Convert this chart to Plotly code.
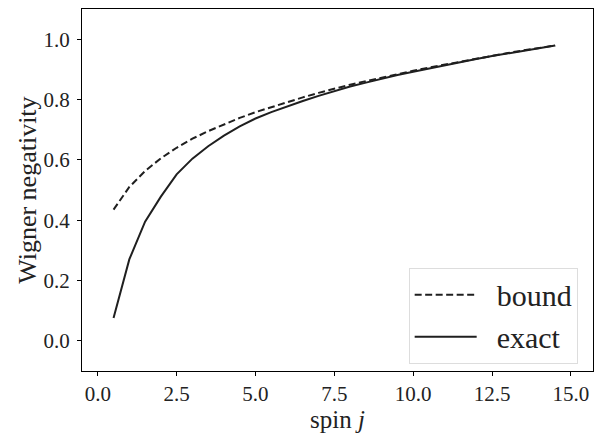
import plotly.graph_objects as go

spin_j = [0.5, 1.0, 1.5, 2.0, 2.5, 3.0, 3.5, 4.0, 4.5, 5.0, 5.5, 6.0, 6.5, 7.0, 7.5,
          8.0, 8.5, 9.0, 9.5, 10.0, 10.5, 11.0, 11.5, 12.0, 12.5, 13.0, 13.5, 14.0, 14.5]

bound = [0.435, 0.510, 0.563, 0.605, 0.640, 0.670, 0.695, 0.718, 0.739, 0.758, 0.775,
         0.792, 0.807, 0.822, 0.836, 0.849, 0.861, 0.873, 0.885, 0.895, 0.906, 0.916,
         0.926, 0.936, 0.945, 0.954, 0.963, 0.971, 0.979]

exact = [0.076, 0.270, 0.395, 0.478, 0.552, 0.604, 0.645, 0.680, 0.711, 0.737, 0.758,
         0.777, 0.795, 0.812, 0.828, 0.843, 0.856, 0.869, 0.881, 0.892, 0.903, 0.914,
         0.924, 0.934, 0.944, 0.953, 0.962, 0.970, 0.979]

series_names = ["bound", "exact"]

x_ticks = [0.0, 2.5, 5.0, 7.5, 10.0, 12.5, 15.0]
y_ticks = [0.0, 0.2, 0.4, 0.6, 0.8, 1.0]

FONT = "Liberation Serif"
INK = "#1f1f1f"
PAD = "&nbsp;&nbsp;"

fig = go.Figure()
fig.add_trace(go.Scatter(x=spin_j, y=bound, mode="lines", name=PAD + series_names[0],
                         line=dict(color=INK, width=2, dash="7px,3.5px")))
fig.add_trace(go.Scatter(x=spin_j, y=exact, mode="lines", name=PAD + series_names[1],
                         line=dict(color=INK, width=2)))

axis_common = dict(showgrid=False, zeroline=False, showline=True, linecolor="black",
                   linewidth=1.2, mirror=True, ticks="outside", ticklen=4,
                   tickcolor="black", tickwidth=1.2,
                   tickfont=dict(family=FONT, size=21, color="#222"))

fig.update_xaxes(range=[-0.5, 15.7], tickvals=x_ticks, tickformat=".1f",
                 title=dict(text="spin <i>j</i>", font=dict(family=FONT, size=25, color="#222"),
                            standoff=3),
                 **axis_common)
fig.update_yaxes(range=[-0.1, 1.1], tickvals=y_ticks, tickformat=".1f",
                 ticklabelstandoff=3, **axis_common)

fig.add_annotation(text="Wigner negativity", xref="paper", yref="paper",
                   x=-0.108, y=0.5, xanchor="center", yanchor="middle",
                   textangle=-90, showarrow=False,
                   font=dict(family=FONT, size=26, color="#222"))

fig.update_layout(
    width=602, height=435,
    margin=dict(l=82, r=8, t=8, b=58),
    paper_bgcolor="white", plot_bgcolor="white",
    showlegend=True,
    legend=dict(x=0.97, y=0.02, xanchor="right", yanchor="bottom",
                bgcolor="white", bordercolor="#dddddd", borderwidth=1,
                font=dict(family=FONT, size=30, color="#222"),
                itemwidth=62, tracegroupgap=0),
)

fig.write_html("out.html")
